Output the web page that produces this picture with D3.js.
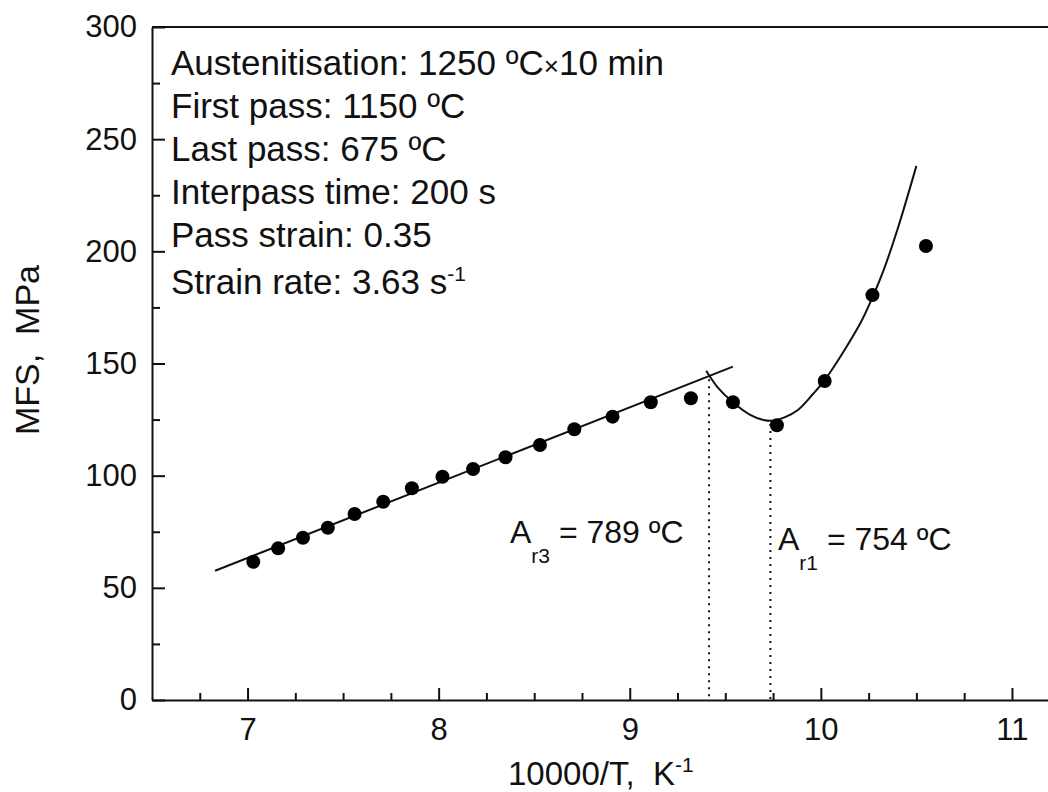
<!DOCTYPE html>
<html>
<head>
<meta charset="utf-8">
<script src="https://cdn.jsdelivr.net/npm/d3@7"></script>
<style>
  body { margin: 0; background: #fff; }
  svg { display: block; font-family: "Liberation Sans", Arial, sans-serif; }
</style>
</head>
<body>
<svg id="chart" width="1048" height="792"></svg>
<script>
// measured points: 10000/T (K^-1) vs mean flow stress (MPa)
const invT = [7.03, 7.16, 7.29, 7.42, 7.56, 7.71, 7.86, 8.02, 8.18, 8.35, 8.53, 8.71, 8.91, 9.11, 9.32, 9.54, 9.77, 10.02, 10.27, 10.55];
const mfs = [61.6, 67.6, 72.3, 76.8, 82.9, 88.4, 94.4, 99.5, 103.0, 108.2, 113.7, 120.7, 126.3, 132.7, 134.5, 132.7, 122.5, 142.2, 180.5, 202.4];

// straight fit through the austenite region
const fitX = [6.83, 9.54];
const fitY = [57.6, 148.6];

// curve through the two-phase region
const curveX = [9.40, 9.46, 9.54, 9.63, 9.70, 9.75, 9.81, 9.88, 9.96, 10.02, 10.12, 10.21, 10.27, 10.33, 10.40, 10.50];
const curveY = [146.8, 139.4, 132.7, 127.1, 124.8, 124.5, 126.0, 129.3, 136.5, 142.6, 155.5, 168.5, 179.5, 192.0, 209.5, 238.1];

// transformation temperatures
const arX = [9.415, 9.736];
const arTop = [143, 123];

const xMajor = [7, 8, 9, 10, 11];
const xMinor = [6.75, 7.25, 7.5, 7.75, 8.25, 8.5, 8.75, 9.25, 9.5, 9.75, 10.25, 10.5, 10.75, 11.25];
const yMajor = [0, 50, 100, 150, 200, 250, 300];
const yMinor = [25, 75, 125, 175, 225, 275];

const notes = [
  "Austenitisation: 1250 ºC",
  "First pass: 1150 ºC",
  "Last pass: 675 ºC",
  "Interpass time: 200 s",
  "Pass strain: 0.35",
  "Strain rate: 3.63 s"
];

const svg = d3.select("#chart");

const x = d3.scaleLinear().domain([6.5, 11.5]).range([152, 1107.5]);
const y = d3.scaleLinear().domain([0, 300]).range([700, 27]);

// top frame line
svg.append("line")
  .attr("x1", 152).attr("x2", 1048)
  .attr("y1", y(300)).attr("y2", y(300))
  .attr("stroke", "#111").attr("stroke-width", 2);

// axes
const xAxis = svg.append("g")
  .attr("transform", `translate(0,${y(0)})`)
  .call(d3.axisBottom(x).tickValues(xMajor).tickSizeInner(-12).tickSizeOuter(0).tickPadding(18).tickFormat(d3.format("d")));
svg.append("g")
  .attr("transform", `translate(0,${y(0)})`)
  .call(d3.axisBottom(x).tickValues(xMinor).tickSizeInner(-7).tickSizeOuter(0).tickFormat(""))
  .select(".domain").remove();

const yAxis = svg.append("g")
  .attr("transform", `translate(${x(6.5)},0)`)
  .call(d3.axisLeft(y).tickValues(yMajor).tickSizeInner(-13).tickSizeOuter(0).tickPadding(15));
svg.append("g")
  .attr("transform", `translate(${x(6.5)},0)`)
  .call(d3.axisLeft(y).tickValues(yMinor).tickSizeInner(-8).tickSizeOuter(0).tickFormat(""))
  .select(".domain").remove();

svg.selectAll(".domain, .tick line").attr("stroke", "#111").attr("stroke-width", 2);
xAxis.selectAll("text").attr("font-size", 31).attr("font-family", "Liberation Sans, Arial, sans-serif").attr("fill", "#111");
yAxis.selectAll("text").attr("font-size", 31).attr("font-family", "Liberation Sans, Arial, sans-serif").attr("fill", "#111");

// axis titles
const xt = svg.append("text")
  .attr("x", 508).attr("y", 785)
  .attr("font-size", 33).attr("fill", "#111");
xt.append("tspan").text("10000/T,\u00a0\u00a0K");
xt.append("tspan").attr("dy", -13).attr("font-size", 21).text("-1");

svg.append("text")
  .attr("transform", "translate(39,350) rotate(-90)")
  .attr("text-anchor", "middle")
  .attr("font-size", 34).attr("fill", "#111")
  .text("MFS,\u00a0\u00a0MPa");

// dotted transformation lines
svg.selectAll(".ar")
  .data(arX)
  .join("line")
  .attr("class", "ar")
  .attr("x1", d => x(d)).attr("x2", d => x(d))
  .attr("y1", (d, i) => y(arTop[i])).attr("y2", y(0))
  .attr("stroke", "#111").attr("stroke-width", 2)
  .attr("stroke-dasharray", "2,5");

// fitted line
const line = d3.line().x(d => x(d[0])).y(d => y(d[1]));
svg.append("path")
  .attr("d", line(d3.zip(fitX, fitY)))
  .attr("fill", "none").attr("stroke", "#111").attr("stroke-width", 2);

svg.append("path")
  .attr("d", line.curve(d3.curveCatmullRom)(d3.zip(curveX, curveY)))
  .attr("fill", "none").attr("stroke", "#111").attr("stroke-width", 2);

// points
svg.selectAll(".pt")
  .data(d3.zip(invT, mfs))
  .join("circle")
  .attr("class", "pt")
  .attr("cx", d => x(d[0])).attr("cy", d => y(d[1]))
  .attr("r", 7).attr("fill", "#000");

// annotation block
const notesG = svg.append("g").attr("font-size", 35).attr("fill", "#111");
notesG.selectAll("text")
  .data(notes)
  .join("text")
  .attr("x", 171)
  .attr("y", (d, i) => 75 + i * 43 + (i === 5 ? 4 : 0))
  .text(d => d);
const first = notesG.select("text");
first.append("tspan").attr("font-size", 26).text("\u00d7");
first.append("tspan").text("10 min");
notesG.selectAll("text").filter((d, i) => i === 5)
  .append("tspan").attr("dy", -13).attr("font-size", 21).text("-1");

// Ar labels
function arLabel(px, py, sub, rest) {
  const t = svg.append("text").attr("x", px).attr("y", py).attr("font-size", 32).attr("fill", "#111");
  t.append("tspan").text("A");
  t.append("tspan").attr("dy", 20).attr("font-size", 21).text(sub);
  t.append("tspan").attr("dy", -20).text(rest);
}
arLabel(510, 543, "r3", " = 789 ºC");
arLabel(778, 550, "r1", " = 754 ºC");
</script>
</body>
</html>
